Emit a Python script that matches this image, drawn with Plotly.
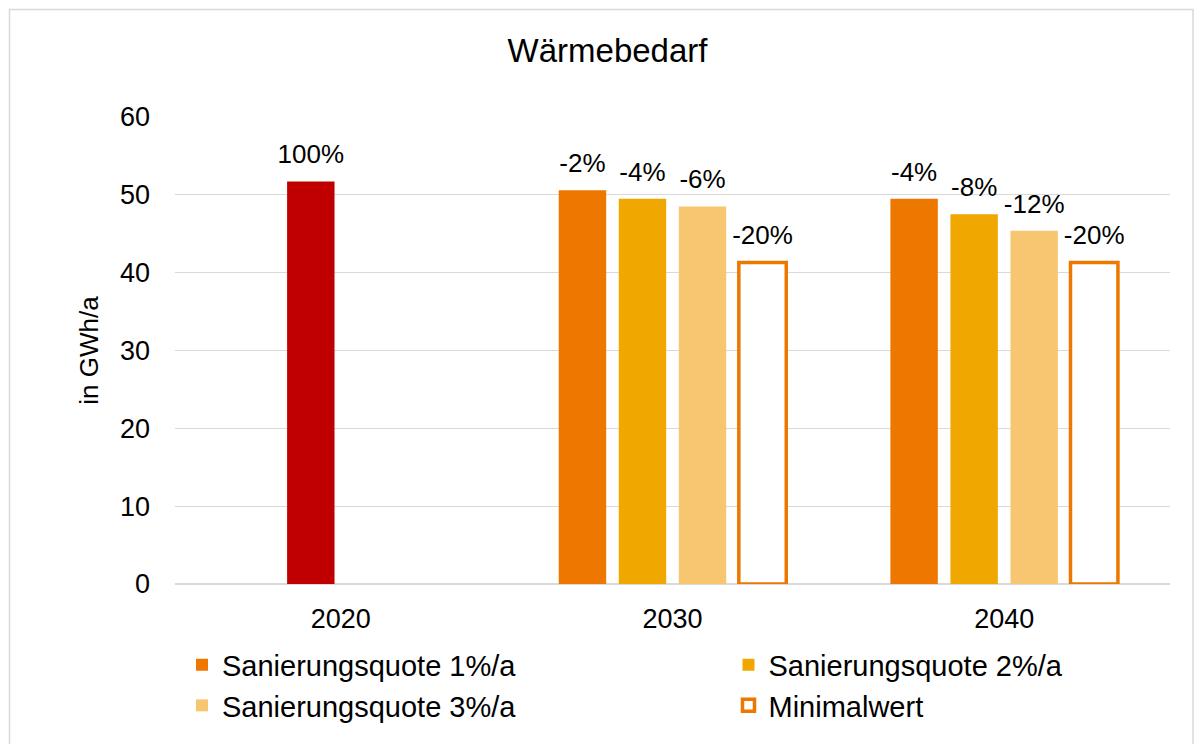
import plotly.graph_objects as go

# ---------------- data ----------------
years = ["2020", "2030", "2040"]

q1_name = "Sanierungsquote 1%/a"
q1_years = ["2030", "2040"]
q1_values = [50.6, 49.5]
q1_labels = ["-2%", "-4%"]

q2_name = "Sanierungsquote 2%/a"
q2_years = ["2030", "2040", "2020"]
q2_values = [49.5, 47.5, 51.7]
q2_labels = ["-4%", "-8%", "100%"]

q3_name = "Sanierungsquote 3%/a"
q3_years = ["2030", "2040"]
q3_values = [48.5, 45.4]
q3_labels = ["-6%", "-12%"]

min_name = "Minimalwert"
min_years = ["2030", "2040"]
min_values = [41.3, 41.3]
min_labels = ["-20%", "-20%"]

# ---------------- style ----------------
RED = "#C00000"
ORANGE = "#EE7700"
GOLD = "#F0A700"
LIGHT = "#F8C670"
GRID = "#D9D9D9"
FONT = "Liberation Sans, Arial, sans-serif"

W, H = 1194, 744
L, R, T, B = 175, 24, 117, 160
PW, PH = W - L - R, H - T - B


def px_x(px):
    return (px - L) / PW


def px_y(py):
    return (H - B - py) / PH


# legend slots (container pixels): column x, row y
COL1, COL2 = 182, 728.5
ROW1, ROW2 = 665, 705.5

fig = go.Figure()

bar_specs = [
    (q1_name, q1_years, q1_values, q1_labels, [ORANGE] * len(q1_years), None, "legend"),
    (q2_name, q2_years, q2_values, q2_labels,
     [RED if y == "2020" else GOLD for y in q2_years], None, "legend2"),
    (q3_name, q3_years, q3_values, q3_labels, [LIGHT] * len(q3_years), None, "legend3"),
    (min_name, min_years, min_values, min_labels, ["white"] * len(min_years), ORANGE, "legend4"),
]

for i, (name, xs, ys, labels, colors, line_color, leg) in enumerate(bar_specs):
    fig.add_trace(go.Bar(
        x=xs, y=ys, name=name, offsetgroup=str(i), legend=leg,
        marker=dict(color=colors,
                    line=dict(color=line_color if line_color else "rgba(0,0,0,0)",
                              width=3.5 if line_color else 0)),
        hoverinfo="skip",
    ))

for i, (name, xs, ys, labels, colors, line_color, leg) in enumerate(bar_specs):
    fig.add_trace(go.Scatter(
        x=xs, y=ys, mode="markers+text", text=labels, textposition="top center",
        offsetgroup=str(i), showlegend=False, hoverinfo="skip", cliponaxis=False,
        marker=dict(size=17, opacity=0, color="white"),
        textfont=dict(family=FONT, size=26, color="black"),
    ))

legend_common = dict(
    orientation="h", xanchor="left", yanchor="middle",
    xref="container", yref="container",
    font=dict(family=FONT, size=29, color="black"),
    bgcolor="rgba(0,0,0,0)", itemclick=False, itemdoubleclick=False,
)

fig.update_layout(
    width=W, height=H, autosize=False,
    margin=dict(l=L, r=R, t=T, b=B, pad=0, autoexpand=False),
    paper_bgcolor="white", plot_bgcolor="white",
    font=dict(family=FONT, color="black"),
    title=dict(text="Wärmebedarf", x=607.5 / W, xref="container", xanchor="center",
               y=1 - 50 / H, yref="container", yanchor="middle",
               font=dict(family=FONT, size=33, color="black")),
    barmode="group", bargap=0.276, bargroupgap=0.21,
    scattermode="group", scattergap=0.276,
    xaxis=dict(type="category", categoryorder="array", categoryarray=years,
               showgrid=False, showline=False, zeroline=False, ticks="",
               tickfont=dict(family=FONT, size=27, color="black"),
               ticklabelstandoff=16, fixedrange=True),
    yaxis=dict(range=[0, 60], dtick=10, tick0=0, showgrid=True, gridcolor=GRID,
               gridwidth=1.3, zeroline=True, zerolinecolor=GRID, zerolinewidth=1.5,
               showline=False, ticks="",
               tickfont=dict(family=FONT, size=27, color="black"),
               ticklabelstandoff=24, fixedrange=True,
               title=dict(text="in GWh/a", font=dict(family=FONT, size=26, color="black"),
                          standoff=13)),
    legend=dict(x=COL1 / W, y=1 - ROW1 / H, **legend_common),
    legend2=dict(x=COL2 / W, y=1 - ROW1 / H, **legend_common),
    legend3=dict(x=COL1 / W, y=1 - ROW2 / H, **legend_common),
    legend4=dict(x=COL2 / W, y=1 - ROW2 / H, **legend_common),
    shapes=[dict(type="rect", xref="paper", yref="paper",
                 x0=px_x(9.5), x1=px_x(1193), y0=px_y(760), y1=px_y(9.5),
                 line=dict(color=GRID, width=1.5), fillcolor="rgba(0,0,0,0)",
                 layer="below")],
    showlegend=True,
)

fig.write_html("out.html", post_script="document.body.style.margin='0';",
               config={"displayModeBar": False})
